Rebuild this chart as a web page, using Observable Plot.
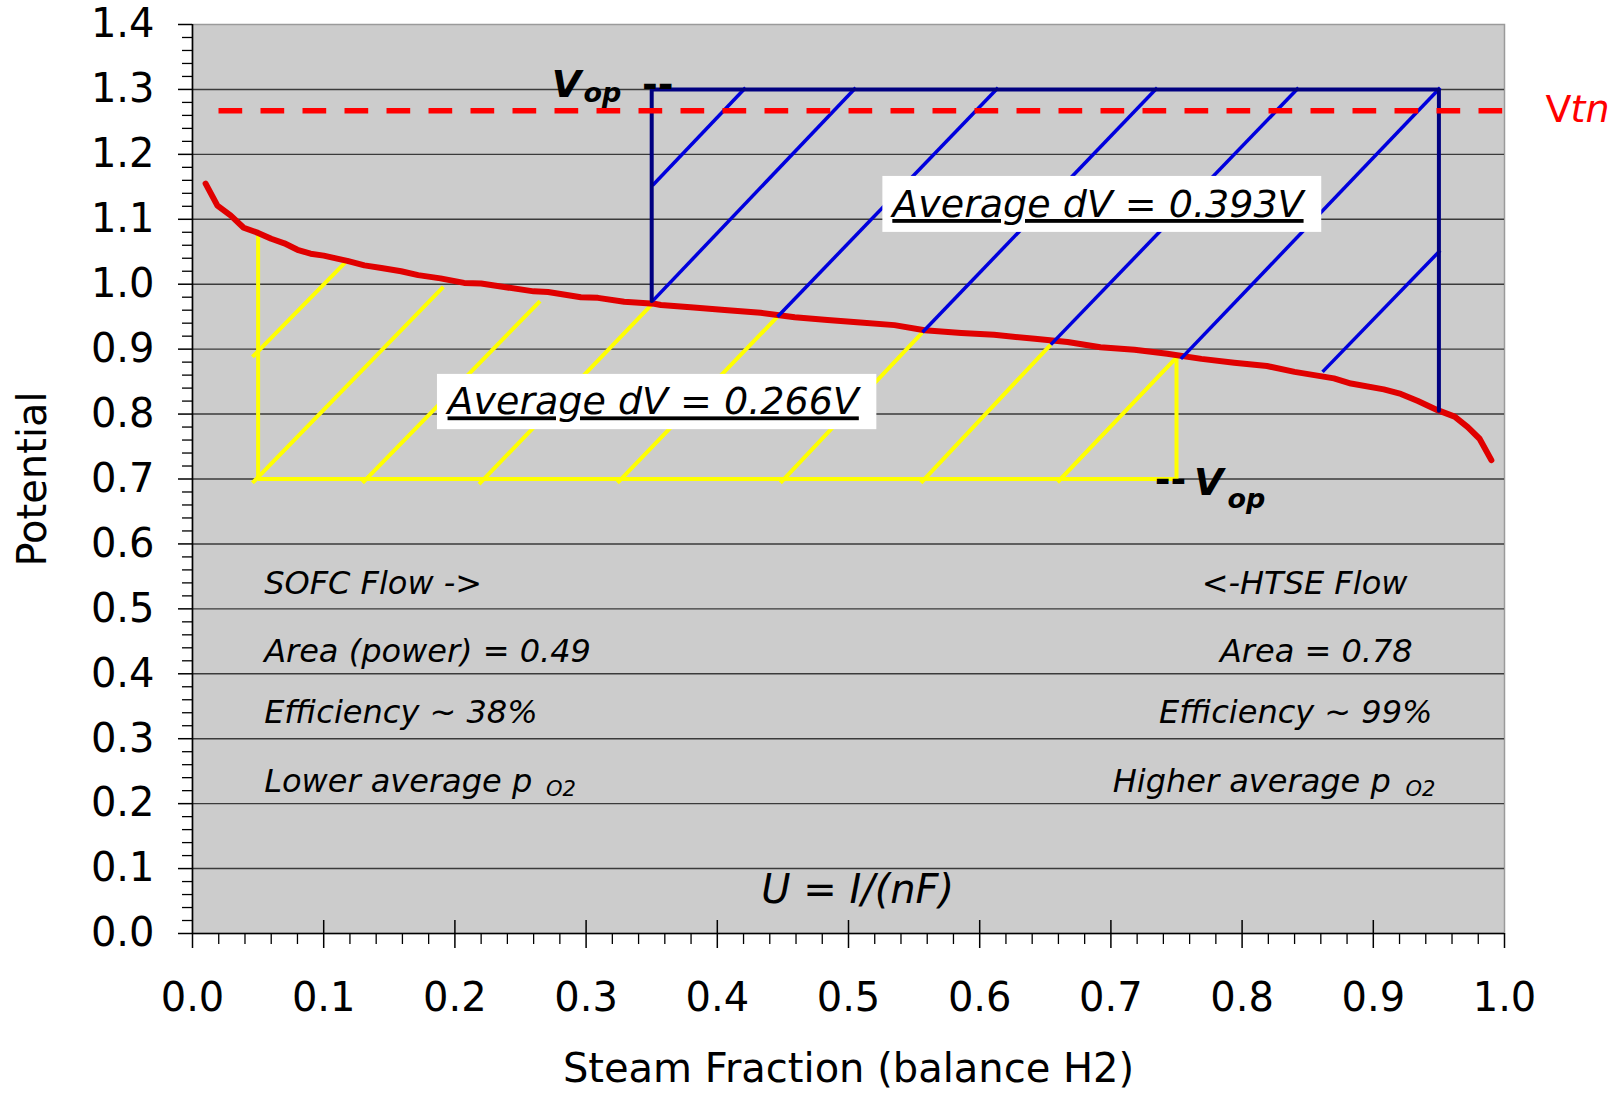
<!DOCTYPE html>
<html><head><meta charset="utf-8">
<script src="https://cdn.jsdelivr.net/npm/d3@7"></script>
<script src="https://cdn.jsdelivr.net/npm/@observablehq/plot@0.6"></script>
<style>html,body{margin:0;padding:0;background:#fff;overflow:hidden}</style>
</head><body><div id="chart"></div>
<script>
// ---- data ----
const steamFraction = [0.010,0.019,0.029,0.039,0.050,0.060,0.070,0.080,0.090,0.100,0.111,0.118,0.131,0.144,0.159,0.172,0.189,0.207,0.220,0.240,0.260,0.271,0.296,0.309,0.329,0.352,0.357,0.382,0.408,0.433,0.459,0.484,0.509,0.535,0.558,0.586,0.611,0.642,0.667,0.692,0.718,0.743,0.769,0.794,0.819,0.840,0.870,0.883,0.908,0.921,0.934,0.949,0.962,0.972,0.981,0.990];
const potential     = [1.155,1.121,1.106,1.087,1.079,1.070,1.063,1.053,1.047,1.044,1.039,1.036,1.029,1.025,1.020,1.014,1.009,1.002,1.001,0.995,0.989,0.988,0.980,0.979,0.973,0.970,0.968,0.964,0.960,0.956,0.949,0.945,0.941,0.937,0.929,0.925,0.922,0.916,0.911,0.903,0.899,0.893,0.885,0.879,0.874,0.865,0.855,0.847,0.838,0.831,0.820,0.806,0.796,0.780,0.762,0.729];

const vtn = 1.267;
// SOFC region (yellow) outline and hatch segments [x1,y1,x2,y2]
const sofcOutlineX = [0.05, 0.05, 0.75, 0.75];
const sofcOutlineY = [1.079, 0.7, 0.7, 0.889];
const sofcHatch = [
  [0.0457,0.888,0.1182,1.037],
  [0.0457,0.694,0.1912,0.996],
  [0.1296,0.694,0.2649,0.974],
  [0.2184,0.692,0.3518,0.9725],
  [0.3239,0.694,0.4459,0.950],
  [0.4481,0.694,0.5564,0.926],
  [0.5552,0.694,0.6542,0.907],
  [0.6593,0.695,0.7508,0.889]
];
// HTSE region (blue) outline and hatch segments
const htseOutlineX = [0.35, 0.35, 0.95, 0.95];
const htseOutlineY = [0.974, 1.3, 1.3, 0.805];
const htseHatch = [
  [0.3506,1.152,0.4215,1.3025],
  [0.3506,0.974,0.5055,1.3025],
  [0.4459,0.950,0.6140,1.3025],
  [0.5564,0.926,0.7353,1.3025],
  [0.6542,0.907,0.8430,1.3025],
  [0.7533,0.885,0.9510,1.3025],
  [0.8613,0.865,0.9510,1.052]
];

// ticks
const xTicks = [0,0.1,0.2,0.3,0.4,0.5,0.6,0.7,0.8,0.9,1.0];
const xTickLabels = ["0.0","0.1","0.2","0.3","0.4","0.5","0.6","0.7","0.8","0.9","1.0"];
const yTicks = [0,0.1,0.2,0.3,0.4,0.5,0.6,0.7,0.8,0.9,1.0,1.1,1.2,1.3,1.4];
const yTickLabels = ["0.0","0.1","0.2","0.3","0.4","0.5","0.6","0.7","0.8","0.9","1.0","1.1","1.2","1.3","1.4"];
const gridY = [0.1,0.2,0.3,0.4,0.5,0.6,0.7,0.8,0.9,1.0,1.1,1.2,1.3];
const xMinor = d3.range(0, 1.0001, 0.02).filter(v => Math.abs(v*10 - Math.round(v*10)) > 1e-6);
const yMinor = d3.range(0, 1.4001, 0.02).filter(v => Math.abs(v*10 - Math.round(v*10)) > 1e-6);

// annotation texts
const sofcNotes = ["SOFC Flow ->", "Area (power) = 0.49", "Efficiency ~ 38%", "Lower average p"];
const htseNotes = ["<-HTSE Flow", "Area = 0.78", "Efficiency ~ 99%", "Higher average p"];
const noteRowY = [0.5234, 0.4182, 0.3243, 0.2186];
const sofcNoteX = [0.0546, 0.0546, 0.0546, 0.0546];
const htseNoteX = [0.926, 0.930, 0.9451, 0.9133];
const subO2X = [0.2694, 0.9245];
const subO2Y = 0.2114;
const dVLabels = ["Average dV = 0.393V", "Average dV = 0.266V"];
const dVLabelX = [0.5334, 0.1944];
const dVLabelY = [1.1035, 0.7995];
const dVBoxX1 = [0.5262, 0.1867], dVBoxX2 = [0.8607, 0.5216];
const dVBoxY1 = [1.0798, 0.776], dVBoxY2 = [1.166, 0.8611];

// ---- build ----
const curve = steamFraction.map((x, i) => ({x, y: potential[i]}));
const seg = a => a.map(([x1,y1,x2,y2]) => ({x1,y1,x2,y2}));
const pts = (xs, ys) => xs.map((x, i) => ({x, y: ys[i]}));
const boxes = dVBoxX1.map((x1, i) => ({x1, x2: dVBoxX2[i], y1: dVBoxY1[i], y2: dVBoxY2[i]}));
const dV = dVLabels.map((t, i) => ({t, x: dVLabelX[i], y: dVLabelY[i]}));
const leftNotes = sofcNotes.map((t, i) => ({t, x: sofcNoteX[i], y: noteRowY[i]}));
const rightNotes = htseNotes.map((t, i) => ({t, x: htseNoteX[i], y: noteRowY[i]}));
const F = "DejaVu Sans";

const chart = Plot.plot({
  width: 1616, height: 1093,
  marginLeft: 192, marginRight: 112, marginTop: 24, marginBottom: 160,
  style: {fontFamily: F, background: "#fff", overflow: "visible"},
  x: {domain: [0, 1], axis: null},
  y: {domain: [0, 1.4], axis: null},
  marks: [
    Plot.frame({fill: "#cccccc", stroke: "#9a9a9a", strokeWidth: 1.5}),
    Plot.ruleY(gridY, {stroke: "#3a3a3a", strokeWidth: 1.4}),
    // yellow SOFC region
    Plot.link(seg(sofcHatch), {x1: "x1", y1: "y1", x2: "x2", y2: "y2", stroke: "#ffff00", strokeWidth: 4}),
    Plot.line(pts(sofcOutlineX, sofcOutlineY), {x: "x", y: "y", stroke: "#ffff00", strokeWidth: 4, strokeLinejoin: "miter"}),
    // potential curve
    Plot.line(curve, {x: "x", y: "y", stroke: "#e00000", strokeWidth: 6, strokeLinejoin: "round", strokeLinecap: "round"}),
    // blue HTSE region
    Plot.link(seg(htseHatch), {x1: "x1", y1: "y1", x2: "x2", y2: "y2", stroke: "#0000dd", strokeWidth: 3.5}),
    Plot.line(pts(htseOutlineX, htseOutlineY), {x: "x", y: "y", stroke: "#000080", strokeWidth: 4, strokeLinejoin: "miter"}),
    // Vtn dashed line
    Plot.ruleY([vtn], {x1: 0.0202, x2: 1, stroke: "#ff0000", strokeWidth: 5.5, strokeDasharray: "23.7,18.3"}),
    // label boxes
    Plot.rect(boxes, {x1: "x1", x2: "x2", y1: "y1", y2: "y2", fill: "#fff"}),
    Plot.text(dV, {x: "x", y: "y", text: "t", textAnchor: "start", lineAnchor: "bottom", fontSize: 38, fontStyle: "italic", fontFamily: F}),
    // notes
    Plot.text(leftNotes, {x: "x", y: "y", text: "t", textAnchor: "start", lineAnchor: "bottom", fontSize: 32, fontStyle: "italic", fontFamily: F}),
    Plot.text(rightNotes, {x: "x", y: "y", text: "t", textAnchor: "end", lineAnchor: "bottom", fontSize: 32, fontStyle: "italic", fontFamily: F}),
    Plot.text(subO2X, {x: d => d, y: subO2Y, text: () => "O2", textAnchor: "start", lineAnchor: "bottom", fontSize: 21, fontStyle: "italic", fontFamily: F}),
    Plot.text(["U = I/(nF)"], {x: 0.507, y: 0.0667, text: d => d, textAnchor: "middle", lineAnchor: "middle", fontSize: 40, fontStyle: "italic", fontFamily: F}),
    // Vop labels
    Plot.text(["V"], {x: 0.2739, y: 1.2891, text: d => d, textAnchor: "start", lineAnchor: "bottom", fontSize: 38, fontStyle: "italic", fontWeight: "bold", fontFamily: F}),
    Plot.text(["op"], {x: 0.298, y: 1.2803, text: d => d, textAnchor: "start", lineAnchor: "bottom", fontSize: 27, fontStyle: "italic", fontWeight: "bold", fontFamily: F}),
    Plot.text(["--"], {x: 0.3426, y: 1.2891, text: d => d, textAnchor: "start", lineAnchor: "bottom", fontSize: 38, fontWeight: "bold", fontFamily: F}),
    Plot.text(["--"], {x: 0.7335, y: 0.6804, text: d => d, textAnchor: "start", lineAnchor: "bottom", fontSize: 38, fontWeight: "bold", fontFamily: F}),
    Plot.text(["V"], {x: 0.7633, y: 0.6758, text: d => d, textAnchor: "start", lineAnchor: "bottom", fontSize: 38, fontStyle: "italic", fontWeight: "bold", fontFamily: F}),
    Plot.text(["op"], {x: 0.7889, y: 0.6552, text: d => d, textAnchor: "start", lineAnchor: "bottom", fontSize: 27, fontStyle: "italic", fontWeight: "bold", fontFamily: F}),
    // Vtn label
    Plot.text(["V"], {x: 1, y: vtn, dx: 41, dy: 11, text: d => d, textAnchor: "start", lineAnchor: "bottom", fontSize: 38, fill: "#ff0000", fontFamily: F}),
    Plot.text(["tn"], {x: 1, y: vtn, dx: 66, dy: 11, text: d => d, textAnchor: "start", lineAnchor: "bottom", fontSize: 38, fontStyle: "italic", fill: "#ff0000", fontFamily: F}),
    // axes
    Plot.ruleX([0], {stroke: "#000", strokeWidth: 1.6}),
    Plot.ruleY([0], {stroke: "#000", strokeWidth: 1.6}),
    Plot.ruleX(xTicks.slice(1, -1), {y1: 0, y2: 0.02, stroke: "#000", strokeWidth: 1.5}),
    Plot.axisX(xTicks, {anchor: "bottom", tickSize: 15, tickPadding: 34, fontSize: 40, stroke: "#000", strokeWidth: 1.5, label: null, tickFormat: d => xTickLabels[xTicks.indexOf(d)]}),
    Plot.axisX(xMinor, {anchor: "bottom", tickSize: 11, stroke: "#000", strokeWidth: 1.3, label: null, tickFormat: () => ""}),
    Plot.axisY(yTicks, {anchor: "left", tickSize: 14, tickPadding: 24, fontSize: 40, stroke: "#000", strokeWidth: 1.5, label: null, tickFormat: d => yTickLabels[yTicks.indexOf(d)]}),
    Plot.axisY(yMinor, {anchor: "left", tickSize: 10, stroke: "#000", strokeWidth: 1.3, label: null, tickFormat: () => ""}),
    Plot.text(["Steam Fraction (balance H2)"], {frameAnchor: "bottom", dy: 136, text: d => d, textAnchor: "middle", lineAnchor: "middle", fontSize: 40, fontFamily: F}),
    Plot.text(["Potential"], {frameAnchor: "left", dx: -159, dy: 0, rotate: -90, text: d => d, textAnchor: "middle", lineAnchor: "middle", fontSize: 40, fontFamily: F})
  ]
});
document.getElementById("chart").appendChild(chart);
d3.select(chart).selectAll("text").filter(function () { return this.textContent.startsWith("Average"); })
  .attr("text-decoration", "underline");
</script></body></html>
